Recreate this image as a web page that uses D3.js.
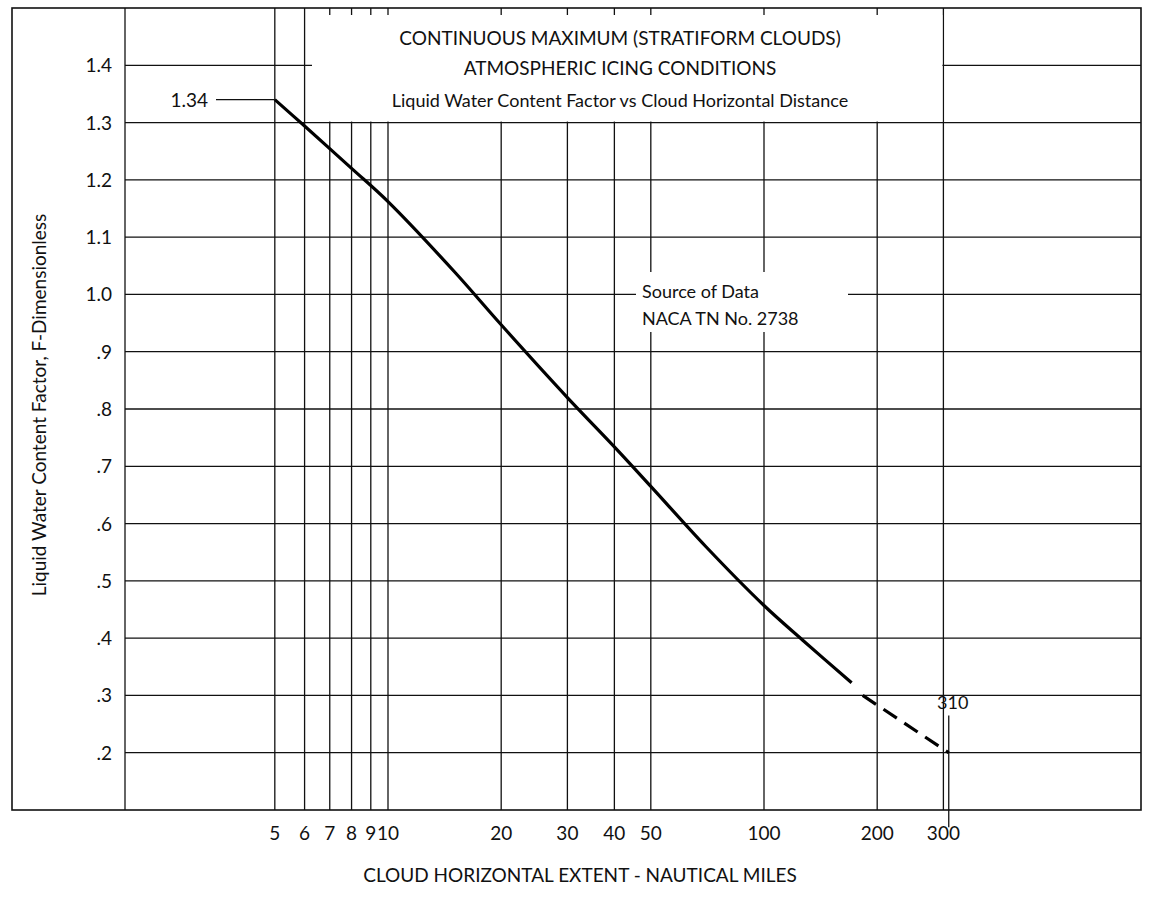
<!DOCTYPE html>
<html><head><meta charset="utf-8">
<script src="https://cdn.jsdelivr.net/npm/d3@7"></script>
<style>body{margin:0;background:#fff}text{font-family:Lato,"Open Sans",sans-serif;fill:#111}</style>
</head><body>
<svg id="chart" width="1157" height="912"></svg>
<script>
// x ticks (nautical miles) and y ticks (factor F)
var xTicks = [5, 6, 7, 8, 9, 10, 20, 30, 40, 50, 100, 200, 300];
var yTicks = [0.2, 0.3, 0.4, 0.5, 0.6, 0.7, 0.8, 0.9, 1.0, 1.1, 1.2, 1.3, 1.4];
var yLabels = ['.2', '.3', '.4', '.5', '.6', '.7', '.8', '.9', '1.0', '1.1', '1.2', '1.3', '1.4'];
// curve
var solidX = [5, 6, 8, 10, 15, 20, 30, 40, 50, 70, 100, 127, 171];
var solidY = [1.34, 1.294, 1.22, 1.162, 1.04, 0.947, 0.82, 0.734, 0.665, 0.56, 0.457, 0.396, 0.322];
var dashX = [183, 310];
var dashY = [0.30, 0.20];

(function () {
var svg = d3.select('#chart');
var x = d3.scaleLog().domain([1, 1000]).range([12, 1140]);
var y = d3.scaleLinear().domain([0.1, 1.5]).range([810, 8]);
var pLeft = 125, pRight = 1141, pTop = 8, pBottom = 810;

var g = svg.append('g').attr('stroke', '#111').attr('stroke-width', 1.3).attr('fill', 'none');

// frame
g.append('rect').attr('x', 12).attr('y', pTop).attr('width', pRight - 12).attr('height', pBottom - pTop).attr('stroke-width', 1.6);
g.append('line').attr('x1', pLeft).attr('x2', pLeft).attr('y1', pTop).attr('y2', pBottom);

// grid
yTicks.forEach(function (v) {
    g.append('line').attr('x1', pLeft).attr('x2', pRight).attr('y1', y(v)).attr('y2', y(v));
});
xTicks.forEach(function (v) {
    g.append('line').attr('x1', x(v)).attr('x2', x(v)).attr('y1', pTop).attr('y2', pBottom);
});
g.append('line').attr('x1', x(310)).attr('x2', x(310)).attr('y1', y(0.265)).attr('y2', y(0.07));

// title box (white, covers grid)
var tb = {x0: 312, x1: x(300), y0: pTop + 7, y1: y(1.3)};
svg.append('rect').attr('x', tb.x0).attr('y', tb.y0).attr('width', tb.x1 - tb.x0 - 1).attr('height', tb.y1 - tb.y0 - 1).attr('fill', '#fff');
var title = svg.append('g').attr('text-anchor', 'middle');
title.append('text').attr('x', 620).attr('y', 45).attr('font-size', 19).text('CONTINUOUS MAXIMUM (STRATIFORM CLOUDS)');
title.append('text').attr('x', 620).attr('y', 75).attr('font-size', 19).text('ATMOSPHERIC ICING CONDITIONS');
title.append('text').attr('x', 620).attr('y', 107).attr('font-size', 18).text('Liquid Water Content Factor vs Cloud Horizontal Distance');

// source box
svg.append('rect').attr('x', 636).attr('y', 272).attr('width', 212).attr('height', 60).attr('fill', '#fff');
svg.append('text').attr('x', 642).attr('y', 298).attr('font-size', 18).text('Source of Data');
svg.append('text').attr('x', 642).attr('y', 325).attr('font-size', 18).text('NACA TN No. 2738');

// curve
var line = d3.line().curve(d3.curveCatmullRom).x(function (d) { return x(d[0]); }).y(function (d) { return y(d[1]); });
svg.append('path').datum(d3.zip(solidX, solidY)).attr('d', line).attr('fill', 'none').attr('stroke', '#000').attr('stroke-width', 3.2);
svg.append('path').datum(d3.zip(dashX, dashY)).attr('d', line).attr('fill', 'none').attr('stroke', '#000').attr('stroke-width', 3.2).attr('stroke-dasharray', '16,9');

// 1.34 callout
svg.append('line').attr('x1', 216).attr('x2', x(5)).attr('y1', y(1.34)).attr('y2', y(1.34)).attr('stroke', '#111').attr('stroke-width', 1.2);
svg.append('text').attr('x', 208).attr('y', y(1.34) + 7).attr('text-anchor', 'end').attr('font-size', 19).text('1.34');
svg.append('text').attr('x', x(310) + 4).attr('y', y(0.265) - 6).attr('text-anchor', 'middle').attr('font-size', 18).text('310');

// axis labels
yTicks.forEach(function (v, i) {
    svg.append('text').attr('x', 112).attr('y', y(v) + 7).attr('text-anchor', 'end').attr('font-size', 19).text(yLabels[i]);
});
xTicks.forEach(function (v) {
    svg.append('text').attr('x', x(v)).attr('y', 840).attr('text-anchor', 'middle').attr('font-size', 19).text(v);
});
svg.append('text').attr('x', 580).attr('y', 882).attr('text-anchor', 'middle').attr('font-size', 19).text('CLOUD HORIZONTAL EXTENT - NAUTICAL MILES');
svg.append('text').attr('transform', 'translate(46,405) rotate(-90)').attr('text-anchor', 'middle').attr('font-size', 19).text('Liquid Water Content Factor, F-Dimensionless');
})();
</script>
</body></html>
